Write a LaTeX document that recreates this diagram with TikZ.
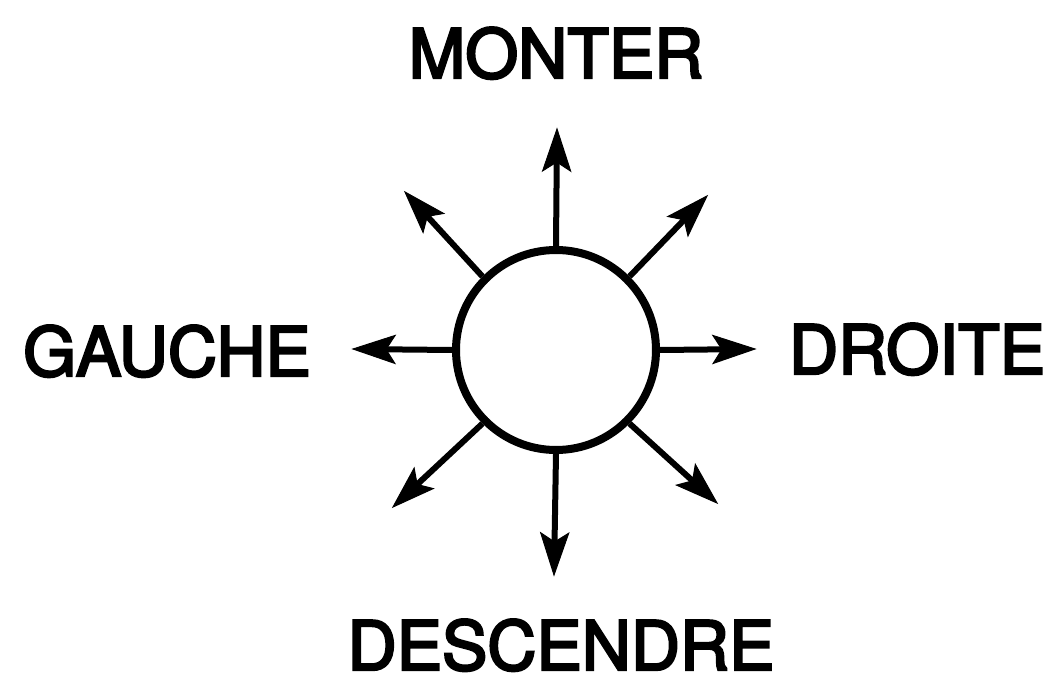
\documentclass[tikz,border=0pt]{standalone}
\usepackage{fontspec}
\setmainfont[FakeBold=3.5]{TeX Gyre Heros}
\usetikzlibrary{calc}
\begin{document}
\begin{tikzpicture}[x=1pt,y=1pt,
  lbl/.style={font=\fontsize{68}{68}\selectfont, anchor=base, inner sep=0pt},
  ring/.style={circle, draw, line width=8pt, inner sep=0pt, minimum size=200pt},
  ray/.style={line width=6pt, shorten >=30pt},
  head/.style={fill=black, draw=black, line width=1pt, line join=miter}]
\useasboundingbox (0,0) rectangle (1050,-679);
\node[ring] (c) at (556,-350) {};
\coordinate (tN) at (557,-129);
\coordinate (tS) at (554,-575);
\coordinate (tW) at (353,-349);
\coordinate (tE) at (755,-349);
\coordinate (tNE) at (707,-196);
\coordinate (tNW) at (405,-192);
\coordinate (tSW) at (393,-507);
\coordinate (tSE) at (717,-503);
\foreach \a/\t in {north/tN, south/tS, west/tW, east/tE, north east/tNE, north west/tNW, south west/tSW, south east/tSE}{
  \draw[ray] (c.\a) -- (\t);
  \path let \p1=($(\t)-(c.\a)$), \n1={atan2(\y1,\x1)} in
    [shift={(\t)}, rotate=\n1]
    [head] (0,0) -- (-42,14) -- (-33,0) -- (-42,-14) -- cycle;
}
\node[lbl] (up) at (556,-78) {MONTER};
\node[lbl] (left) at (167,-376) {GAUCHE};
\node[lbl] (right) at (917,-374) {DROITE};
\node[lbl] (down) at (561,-670) {DESCENDRE};
\end{tikzpicture}
\end{document}
